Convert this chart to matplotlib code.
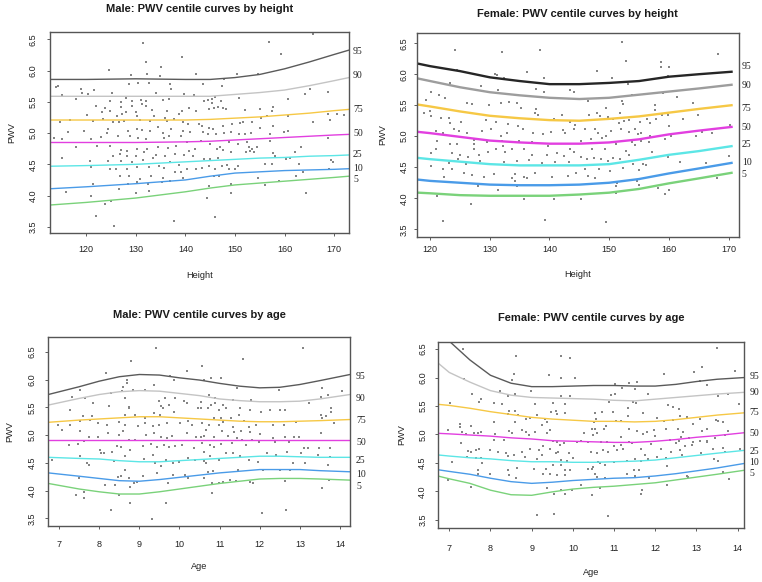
import numpy as np
import matplotlib
matplotlib.use("Agg")
import matplotlib.pyplot as plt

# centile order used by every panel
centiles = ["95", "90", "75", "50", "25", "10", "5"]
curve_colors = ["#5a5a5a", "#c4c4c4", "#f6c845", "#e23fe0", "#5ce6e6", "#4a9be8", "#7ad27a"]

# ---------------- Male, by height ----------------
male_h_pts = [
    (131.5, 6.45), (139.4, 6.22), (132.1, 6.14), (124.5, 6.01), (135.0, 6.06), (129.1, 5.93), (132.2, 5.94),
    (134.8, 5.92), (142.1, 5.95), (113.9, 5.74), (114.3, 5.75), (119.0, 5.71), (119.2, 5.64), (120.3, 5.62),
    (121.6, 5.69), (128.6, 5.79), (130.5, 5.81), (132.7, 5.81), (136.8, 5.78), (137.1, 5.71), (134.0, 5.65),
    (125.2, 5.65), (115.2, 5.61), (128.0, 5.57), (139.7, 5.63), (141.8, 5.61), (117.9, 5.54), (124.7, 5.51),
    (127.0, 5.50), (129.2, 5.51), (131.0, 5.53), (132.0, 5.51), (135.4, 5.53), (136.6, 5.54), (121.9, 5.43),
    (123.8, 5.40), (127.0, 5.42), (129.2, 5.43), (131.2, 5.46), (132.1, 5.43), (133.2, 5.37), (136.2, 5.36),
    (139.4, 5.36), (140.8, 5.40), (142.1, 5.36), (120.2, 5.29), (123.1, 5.34), (124.8, 5.35), (126.3, 5.27),
    (127.3, 5.30), (128.0, 5.34), (130.1, 5.34), (130.3, 5.27), (133.6, 5.27), (135.9, 5.25), (138.7, 5.30),
    (114.7, 5.18), (116.7, 5.21), (121.4, 5.19), (123.3, 5.22), (125.4, 5.18), (126.7, 5.18), (127.7, 5.19),
    (130.9, 5.21), (132.8, 5.19), (136.3, 5.20), (137.7, 5.22), (139.5, 5.18), (140.5, 5.15), (142.7, 5.14),
    (116.3, 5.02), (119.5, 5.03), (124.4, 5.06), (128.4, 5.04), (130.2, 5.07), (131.3, 5.05), (132.9, 5.03),
    (134.5, 5.10), (135.4, 5.01), (137.1, 5.06), (139.5, 5.04), (141.0, 5.02), (113.6, 4.92), (121.0, 4.91),
    (122.9, 4.94), (124.1, 5.00), (126.5, 4.95), (128.9, 4.96), (130.5, 4.92), (132.0, 4.90), (135.6, 4.92),
    (136.6, 4.96), (139.2, 4.95), (140.3, 4.86), (115.1, 4.90), (118.0, 4.78), (122.2, 4.80), (124.8, 4.80),
    (127.1, 4.73), (128.3, 4.72), (130.3, 4.74), (132.2, 4.75), (134.4, 4.77), (136.4, 4.76), (138.1, 4.79),
    (140.7, 4.72), (141.9, 4.74), (125.5, 4.63), (126.8, 4.67), (128.3, 4.64), (130.1, 4.64), (131.7, 4.69),
    (134.0, 4.65), (135.8, 4.64), (137.9, 4.67), (139.8, 4.65), (141.6, 4.63), (115.1, 4.60), (120.8, 4.56),
    (124.3, 4.55), (127.1, 4.56), (129.3, 4.54), (131.5, 4.57), (133.5, 4.60), (134.6, 4.48), (136.9, 4.54),
    (138.8, 4.49), (140.4, 4.43), (121.0, 4.46), (124.7, 4.43), (126.0, 4.43), (128.2, 4.43), (130.2, 4.46),
    (132.6, 4.46), (135.6, 4.44), (139.1, 4.38), (142.1, 4.42), (126.8, 4.31), (128.6, 4.32), (130.9, 4.26),
    (133.1, 4.32), (135.5, 4.28), (137.9, 4.37), (139.5, 4.28), (121.4, 4.19), (128.4, 4.18), (130.3, 4.22),
    (132.4, 4.19), (135.2, 4.21), (136.9, 4.23), (116.0, 4.06), (121.0, 3.99), (126.6, 4.11), (130.1, 4.04),
    (132.6, 4.07), (123.7, 3.87), (125.0, 3.92), (121.9, 3.68), (125.7, 3.51), (137.7, 3.60),
    (156.9, 6.46), (159.3, 6.26), (165.7, 6.59), (150.5, 5.94), (154.7, 5.94), (147.7, 5.87), (143.6, 5.78),
    (147.3, 5.75), (150.8, 5.57), (160.6, 5.54), (164.2, 5.62), (165.1, 5.70), (168.8, 5.66), (143.8, 5.51),
    (144.6, 5.53), (145.4, 5.55), (145.3, 5.48), (146.0, 5.58), (147.2, 5.51), (144.8, 5.38), (145.7, 5.40),
    (146.5, 5.42), (147.5, 5.40), (148.2, 5.39), (152.1, 5.37), (155.1, 5.38), (157.7, 5.42), (157.5, 5.35),
    (168.7, 5.31), (170.5, 5.31), (171.9, 5.29), (160.6, 5.27), (155.3, 5.25), (156.5, 5.27), (143.3, 5.12),
    (144.8, 5.08), (145.5, 5.06), (147.5, 5.12), (149.5, 5.15), (151.0, 5.17), (151.7, 5.18), (153.5, 5.18),
    (155.0, 5.08), (157.6, 5.11), (159.8, 5.02), (160.7, 5.03), (165.7, 5.18), (169.1, 5.21), (143.6, 5.02),
    (144.5, 4.99), (146.1, 4.98), (147.8, 5.00), (149.2, 5.02), (150.9, 4.98), (152.0, 4.99), (153.3, 5.01),
    (157.1, 4.99), (168.8, 4.92), (143.2, 4.88), (144.9, 4.83), (146.3, 4.75), (146.9, 4.77), (147.5, 4.73),
    (148.9, 4.85), (150.6, 4.83), (152.4, 4.86), (152.9, 4.78), (153.5, 4.74), (154.5, 4.77), (157.0, 4.87),
    (162.1, 4.70), (163.4, 4.77), (157.6, 4.68), (158.0, 4.63), (143.8, 4.59), (145.0, 4.58), (146.5, 4.60),
    (149.3, 4.69), (152.2, 4.70), (153.0, 4.71), (153.9, 4.69), (160.3, 4.58), (161.1, 4.60), (143.4, 4.44),
    (144.7, 4.48), (146.0, 4.43), (147.4, 4.48), (148.4, 4.49), (150.0, 4.43), (150.7, 4.48), (156.1, 4.50),
    (157.4, 4.51), (163.0, 4.51), (169.4, 4.57), (169.8, 4.53), (169.0, 4.42), (145.7, 4.32), (146.8, 4.32),
    (148.9, 4.43), (154.7, 4.28), (156.0, 4.17), (158.9, 4.24), (162.4, 4.31), (163.7, 4.37), (144.8, 4.16),
    (149.3, 4.19), (149.2, 4.04), (164.3, 4.04), (144.4, 3.96), (145.9, 3.66),
]
male_h_grid = [113, 120, 130, 140, 145, 150, 155, 160, 165, 170, 173]
male_h_curves = [
    [5.86, 5.86, 5.87, 5.86, 5.86, 5.89, 5.94, 6.03, 6.14, 6.26, 6.33],
    [5.59, 5.59, 5.59, 5.59, 5.59, 5.62, 5.65, 5.69, 5.76, 5.84, 5.89],
    [5.21, 5.21, 5.21, 5.21, 5.22, 5.24, 5.26, 5.29, 5.32, 5.36, 5.38],
    [4.85, 4.85, 4.85, 4.86, 4.87, 4.89, 4.91, 4.93, 4.95, 4.97, 4.98],
    [4.47, 4.48, 4.50, 4.54, 4.56, 4.58, 4.60, 4.61, 4.63, 4.64, 4.65],
    [4.11, 4.14, 4.19, 4.25, 4.31, 4.36, 4.38, 4.40, 4.41, 4.42, 4.43],
    [3.85, 3.89, 3.96, 4.06, 4.12, 4.17, 4.20, 4.23, 4.26, 4.29, 4.31],
]
male_h_label_y = [6.30, 5.92, 5.38, 4.99, 4.65, 4.44, 4.26]

# ---------------- Female, by height ----------------
female_h_pts = [
    (124.1, 6.39), (132.1, 6.36), (138.4, 6.39), (124.5, 6.07), (130.8, 6.01), (131.2, 5.99), (129.8, 5.95),
    (132.4, 5.94), (136.2, 6.04), (139.0, 5.94), (123.3, 5.86), (128.6, 5.81), (131.4, 5.75), (137.8, 5.76),
    (139.0, 5.71), (143.4, 5.75), (144.1, 5.71), (120.1, 5.71), (121.5, 5.66), (119.3, 5.58), (122.5, 5.61),
    (126.2, 5.53), (127.0, 5.52), (129.8, 5.51), (131.9, 5.53), (133.2, 5.55), (134.5, 5.53), (135.3, 5.46),
    (137.8, 5.44), (142.1, 5.35), (119.0, 5.38), (119.9, 5.40), (120.1, 5.32), (121.8, 5.29), (123.2, 5.29),
    (123.3, 5.22), (125.1, 5.23), (129.3, 5.26), (131.0, 5.23), (133.0, 5.19), (134.7, 5.16), (137.5, 5.37),
    (138.0, 5.35), (140.7, 5.28), (143.4, 5.23), (144.2, 5.18), (120.9, 5.08), (122.2, 5.05), (124.0, 5.11),
    (124.9, 5.08), (126.1, 5.05), (128.7, 5.08), (130.2, 5.12), (131.8, 5.01), (132.9, 5.05), (135.5, 5.11),
    (137.2, 5.06), (138.9, 5.03), (140.2, 5.07), (142.2, 5.10), (142.6, 5.06), (144.1, 5.11), (121.2, 4.92),
    (123.4, 4.88), (124.5, 4.87), (127.3, 4.94), (127.4, 4.87), (127.4, 4.79), (129.5, 4.90), (132.1, 4.92),
    (132.2, 4.84), (134.9, 4.92), (135.7, 4.80), (137.1, 4.90), (139.8, 4.84), (143.5, 4.79), (144.1, 4.75),
    (120.1, 4.73), (121.0, 4.79), (123.6, 4.73), (125.0, 4.70), (126.3, 4.67), (128.2, 4.69), (129.7, 4.75),
    (131.1, 4.79), (132.5, 4.75), (133.7, 4.79), (137.0, 4.70), (139.6, 4.69), (141.2, 4.73), (142.4, 4.68),
    (123.1, 4.57), (124.6, 4.63), (126.0, 4.56), (128.3, 4.60), (129.5, 4.56), (132.4, 4.59), (134.6, 4.60),
    (136.6, 4.61), (138.8, 4.57), (140.9, 4.58), (143.2, 4.59), (120.1, 4.52), (122.2, 4.47), (123.7, 4.47),
    (125.6, 4.41), (127.0, 4.37), (129.0, 4.35), (130.7, 4.39), (133.8, 4.33), (134.3, 4.39), (135.7, 4.34),
    (136.2, 4.33), (137.6, 4.41), (140.5, 4.35), (143.1, 4.36), (144.5, 4.40), (122.3, 4.35), (128.1, 4.19),
    (131.3, 4.13), (134.3, 4.28), (134.6, 4.20), (121.2, 4.04), (126.9, 3.90), (135.7, 3.98), (140.7, 3.98),
    (122.1, 3.63), (139.2, 3.65),
    (152.2, 6.52), (168.2, 6.32), (152.9, 6.22), (158.7, 6.20), (158.7, 6.12), (160.0, 6.12), (147.9, 6.06),
    (150.4, 5.94), (159.9, 5.97), (153.2, 5.85), (153.8, 5.67), (159.0, 5.69), (161.3, 5.64), (146.4, 5.57),
    (152.2, 5.57), (152.3, 5.52), (149.5, 5.46), (157.7, 5.51), (157.7, 5.43), (164.1, 5.54), (148.0, 5.38),
    (151.8, 5.38), (146.7, 5.34), (148.4, 5.33), (149.8, 5.31), (150.7, 5.27), (151.6, 5.22), (152.4, 5.25),
    (153.4, 5.26), (155.2, 5.23), (156.3, 5.28), (156.9, 5.21), (157.9, 5.27), (158.9, 5.34), (159.9, 5.34),
    (160.1, 5.16), (162.3, 5.28), (164.9, 5.35), (145.9, 5.11), (147.6, 5.11), (148.1, 5.06), (149.4, 5.01),
    (150.3, 5.08), (152.0, 5.11), (153.3, 5.07), (154.3, 5.11), (154.8, 5.03), (155.4, 5.06), (156.8, 5.00),
    (159.4, 4.96), (160.3, 5.00), (164.6, 5.01), (165.5, 5.07), (167.2, 5.06), (170.2, 5.18), (145.3, 4.92),
    (147.0, 4.95), (148.8, 4.97), (147.2, 4.79), (149.3, 4.79), (151.2, 4.87), (152.9, 4.76), (153.9, 4.90),
    (154.4, 4.86), (155.4, 4.92), (156.6, 4.90), (157.2, 4.75), (145.3, 4.67), (146.3, 4.63), (147.5, 4.65),
    (148.7, 4.64), (149.8, 4.60), (150.7, 4.65), (151.8, 4.63), (153.4, 4.70), (154.0, 4.55), (155.6, 4.56),
    (159.9, 4.66), (161.9, 4.59), (166.2, 4.57), (170.1, 4.68), (145.9, 4.47), (148.3, 4.47), (150.2, 4.44),
    (152.3, 4.48), (155.0, 4.46), (156.1, 4.53), (146.5, 4.36), (147.7, 4.32), (151.3, 4.25), (151.2, 4.20),
    (154.6, 4.28), (155.0, 4.21), (158.2, 4.17), (159.3, 4.07), (160.0, 4.14), (168.0, 4.32), (145.3, 3.99),
    (151.1, 4.09), (149.4, 3.61),
]
female_h_grid = [118, 120, 125, 130, 135, 140, 145, 150, 155, 160, 165, 170.5]
female_h_curves = [
    [6.17, 6.13, 6.05, 5.95, 5.89, 5.84, 5.84, 5.86, 5.89, 5.96, 6.00, 6.04],
    [5.93, 5.89, 5.79, 5.71, 5.66, 5.62, 5.60, 5.62, 5.67, 5.72, 5.77, 5.83],
    [5.51, 5.48, 5.40, 5.33, 5.29, 5.26, 5.25, 5.28, 5.32, 5.38, 5.44, 5.50],
    [5.07, 5.05, 4.99, 4.93, 4.90, 4.88, 4.88, 4.90, 4.95, 5.03, 5.09, 5.15],
    [4.65, 4.63, 4.59, 4.55, 4.53, 4.53, 4.53, 4.55, 4.62, 4.70, 4.76, 4.84],
    [4.30, 4.28, 4.25, 4.22, 4.21, 4.21, 4.22, 4.25, 4.31, 4.40, 4.48, 4.57],
    [4.09, 4.08, 4.05, 4.04, 4.04, 4.04, 4.06, 4.09, 4.15, 4.24, 4.32, 4.41],
]
female_h_label_y = [6.12, 5.82, 5.45, 5.14, 4.86, 4.58, 4.39]

# ---------------- Male, by age ----------------
male_a_pts = [
    (9.41, 6.57), (8.79, 6.33), (8.17, 6.12), (10.19, 6.15), (8.69, 5.99), (8.69, 5.94), (8.59, 5.87),
    (8.57, 5.79), (7.51, 5.82), (7.65, 5.67), (7.31, 5.69), (8.29, 5.76), (8.83, 5.82), (9.36, 5.91),
    (9.76, 6.06), (9.87, 6.00), (9.89, 5.67), (9.49, 5.61), (9.65, 5.67), (9.13, 5.81), (7.85, 5.58),
    (8.24, 5.52), (8.65, 5.66), (8.73, 5.51), (8.75, 5.49), (9.53, 5.52), (9.58, 5.48), (9.73, 5.54),
    (10.12, 5.61), (10.18, 5.58), (10.46, 5.48), (7.27, 5.46), (7.60, 5.34), (7.83, 5.34), (8.64, 5.37),
    (8.90, 5.37), (9.13, 5.30), (9.37, 5.40), (9.51, 5.37), (9.87, 5.42), (6.98, 5.19), (7.27, 5.19),
    (7.51, 5.25), (7.77, 5.28), (7.96, 5.21), (8.19, 5.19), (8.48, 5.24), (8.64, 5.19), (8.96, 5.16),
    (9.13, 5.22), (9.35, 5.17), (9.49, 5.18), (9.69, 5.21), (10.02, 5.21), (10.21, 5.25), (10.32, 5.19),
    (7.06, 5.09), (7.53, 5.07), (7.74, 4.97), (7.96, 4.97), (8.22, 5.03), (8.48, 5.00), (8.59, 5.07),
    (8.74, 4.91), (8.90, 4.91), (9.16, 5.01), (9.37, 5.03), (9.53, 4.97), (9.69, 4.95), (9.82, 4.99),
    (10.19, 5.04), (10.40, 4.97), (7.25, 4.82), (7.47, 4.84), (7.63, 4.89), (8.03, 4.73), (8.13, 4.67),
    (8.32, 4.70), (8.45, 4.81), (8.54, 4.79), (8.76, 4.73), (9.08, 4.80), (9.28, 4.84), (9.43, 4.79),
    (9.62, 4.82), (9.73, 4.79), (9.88, 4.81), (10.07, 4.83), (10.35, 4.77), (7.52, 4.62), (7.69, 4.50),
    (7.75, 4.47), (8.04, 4.67), (8.37, 4.54), (8.64, 4.63), (9.11, 4.57), (9.35, 4.64), (9.40, 4.49),
    (9.53, 4.44), (9.67, 4.56), (9.85, 4.49), (9.98, 4.52), (10.21, 4.58), (10.39, 4.55), (6.81, 4.55),
    (9.43, 4.31), (8.65, 4.38), (8.47, 4.25), (8.55, 4.26), (8.73, 4.23), (8.86, 4.13), (8.94, 4.15),
    (9.09, 4.26), (9.85, 4.29), (10.13, 4.28), (10.21, 4.22), (7.50, 4.23), (8.15, 4.10), (8.40, 4.10),
    (8.76, 4.07), (9.72, 4.13), (7.43, 3.93), (7.63, 3.98), (8.49, 3.92), (7.62, 3.86), (8.76, 3.77),
    (8.29, 3.66), (9.67, 3.77), (9.31, 3.49),
    (13.09, 6.57), (11.59, 6.37), (10.56, 6.24), (11.04, 6.03), (10.78, 6.03), (10.61, 5.99), (11.43, 5.84),
    (12.48, 5.81), (13.54, 5.85), (14.05, 5.79), (10.74, 5.73), (10.89, 5.66), (10.53, 5.60), (10.88, 5.58),
    (13.52, 5.69), (13.71, 5.72), (10.78, 5.54), (11.09, 5.55), (11.34, 5.63), (11.78, 5.63), (13.23, 5.57),
    (10.53, 5.48), (10.70, 5.48), (10.99, 5.45), (11.15, 5.48), (11.50, 5.49), (11.76, 5.45), (12.04, 5.42),
    (12.26, 5.46), (12.51, 5.46), (12.63, 5.46), (13.78, 5.48), (13.78, 5.42), (13.53, 5.36), (13.66, 5.34),
    (13.54, 5.31), (10.86, 5.30), (11.03, 5.31), (11.09, 5.23), (11.29, 5.30), (11.48, 5.37), (11.62, 5.25),
    (10.56, 5.22), (10.74, 5.19), (10.99, 5.19), (11.34, 5.15), (11.73, 5.15), (11.90, 5.18), (12.32, 5.19),
    (12.61, 5.19), (12.90, 5.24), (13.84, 5.22), (10.66, 5.09), (11.05, 5.07), (11.36, 5.06), (11.53, 5.07),
    (11.75, 5.05), (12.01, 5.02), (10.54, 4.97), (10.62, 4.98), (10.86, 4.97), (11.22, 4.99), (11.44, 4.95),
    (11.57, 4.91), (11.80, 4.91), (12.33, 4.95), (12.64, 4.97), (12.86, 4.97), (12.98, 4.96), (13.52, 5.03),
    (10.57, 4.85), (10.76, 4.82), (10.86, 4.79), (11.04, 4.84), (11.32, 4.86), (11.67, 4.82), (11.97, 4.87),
    (12.39, 4.88), (12.73, 4.88), (13.11, 4.77), (13.20, 4.76), (13.47, 4.77), (13.75, 4.77), (10.61, 4.70),
    (10.75, 4.62), (11.15, 4.67), (11.34, 4.67), (11.50, 4.63), (12.18, 4.67), (12.40, 4.64), (12.69, 4.70),
    (13.04, 4.67), (13.44, 4.64), (13.74, 4.61), (10.60, 4.54), (10.66, 4.49), (10.99, 4.56), (11.73, 4.55),
    (11.95, 4.52), (12.83, 4.50), (13.14, 4.49), (13.69, 4.46), (10.72, 4.34), (10.84, 4.35), (11.47, 4.37),
    (12.07, 4.37), (12.51, 4.37), (12.76, 4.37), (10.62, 4.22), (10.82, 4.13), (10.99, 4.14), (11.09, 4.16),
    (11.27, 4.19), (11.40, 4.18), (11.76, 4.15), (11.82, 4.13), (12.63, 4.18), (13.73, 4.19), (10.82, 3.96),
    (13.54, 4.04), (12.66, 3.65), (12.05, 3.59),
]
male_a_grid = [6.73, 7.5, 8, 8.5, 9, 9.5, 10, 10.5, 11, 11.5, 12, 12.5, 13, 13.5, 14.25]
male_a_curves = [
    [5.73, 5.87, 5.97, 6.05, 6.09, 6.08, 6.03, 5.99, 5.93, 5.88, 5.85, 5.86, 5.91, 5.98, 6.09],
    [5.54, 5.66, 5.73, 5.78, 5.80, 5.79, 5.75, 5.71, 5.65, 5.62, 5.60, 5.60, 5.61, 5.65, 5.73],
    [5.23, 5.27, 5.29, 5.31, 5.33, 5.33, 5.31, 5.29, 5.27, 5.25, 5.24, 5.24, 5.25, 5.26, 5.28],
    [4.91, 4.91, 4.91, 4.91, 4.91, 4.91, 4.91, 4.91, 4.91, 4.91, 4.91, 4.91, 4.91, 4.91, 4.91],
    [4.60, 4.58, 4.57, 4.54, 4.52, 4.52, 4.54, 4.56, 4.58, 4.60, 4.62, 4.62, 4.61, 4.60, 4.60],
    [4.32, 4.26, 4.22, 4.18, 4.17, 4.20, 4.24, 4.28, 4.32, 4.35, 4.38, 4.38, 4.38, 4.36, 4.34],
    [4.13, 4.03, 3.98, 3.94, 3.94, 3.98, 4.03, 4.08, 4.13, 4.17, 4.21, 4.22, 4.22, 4.21, 4.19],
]
male_a_label_y = [6.05, 5.66, 5.26, 4.87, 4.55, 4.30, 4.07]

# ---------------- Female, by age ----------------
female_a_pts = [
    (7.33, 6.50), (8.61, 6.38), (9.72, 6.38), (9.94, 6.35), (8.56, 6.06), (9.41, 6.04), (9.72, 6.00),
    (10.06, 6.00), (7.36, 5.98), (8.52, 5.95), (8.24, 5.77), (8.99, 5.77), (7.56, 5.71), (8.60, 5.71),
    (9.71, 5.68), (8.42, 5.68), (9.94, 5.67), (7.78, 5.62), (7.73, 5.57), (7.01, 5.56), (8.09, 5.56),
    (8.27, 5.54), (9.07, 5.54), (9.51, 5.56), (9.80, 5.53), (8.46, 5.41), (8.60, 5.42), (8.42, 5.36),
    (8.67, 5.34), (8.87, 5.27), (8.95, 5.29), (9.13, 5.34), (9.48, 5.40), (9.60, 5.41), (9.62, 5.36),
    (9.80, 5.37), (9.33, 5.27), (9.37, 5.22), (8.09, 5.21), (8.59, 5.21), (7.26, 5.19), (7.27, 5.13),
    (7.54, 5.15), (6.97, 5.08), (7.31, 5.04), (7.40, 5.01), (7.59, 5.02), (7.69, 5.02), (7.78, 5.04),
    (8.12, 5.01), (8.46, 5.06), (8.53, 5.02), (8.76, 5.08), (8.87, 5.04), (8.94, 4.99), (9.09, 5.04),
    (9.25, 5.16), (9.37, 5.02), (9.44, 5.08), (10.28, 5.02), (7.28, 4.85), (8.08, 4.90), (8.32, 4.90),
    (9.51, 4.89), (9.61, 4.86), (10.10, 4.87), (10.20, 4.88), (10.37, 4.87), (7.45, 4.70), (7.53, 4.69),
    (7.66, 4.72), (7.72, 4.74), (7.98, 4.72), (8.18, 4.69), (8.37, 4.67), (8.76, 4.69), (8.97, 4.75),
    (9.17, 4.73), (9.28, 4.80), (9.45, 4.75), (9.58, 4.67), (9.65, 4.69), (9.69, 4.82), (9.78, 4.85),
    (9.90, 4.67), (7.64, 4.58), (7.76, 4.58), (8.42, 4.62), (8.56, 4.64), (8.83, 4.61), (9.13, 4.57),
    (9.26, 4.64), (9.71, 4.55), (9.85, 4.53), (10.00, 4.58), (7.07, 4.52), (7.43, 4.61), (7.69, 4.37),
    (7.79, 4.49), (8.42, 4.38), (8.65, 4.41), (9.06, 4.39), (9.35, 4.40), (9.52, 4.46), (9.72, 4.47),
    (9.80, 4.37), (9.94, 4.38), (10.36, 4.40), (7.71, 4.31), (8.00, 4.31), (8.44, 4.29), (9.27, 4.31),
    (9.45, 4.30), (9.61, 4.29), (9.82, 4.29), (6.98, 4.20), (7.52, 4.07), (8.63, 4.24), (9.37, 4.05),
    (9.55, 3.96), (9.71, 4.02), (9.81, 3.96), (9.99, 4.02), (10.20, 4.11), (9.14, 3.59), (9.55, 3.60),
    (13.49, 6.52), (13.14, 6.19), (12.95, 6.10), (13.94, 6.11), (12.21, 6.06), (11.02, 5.88), (11.36, 5.90),
    (11.55, 5.93), (11.20, 5.81), (11.51, 5.80), (13.08, 5.94), (13.25, 5.87), (11.83, 5.71), (10.93, 5.69),
    (11.02, 5.71), (13.76, 5.71), (14.02, 5.53), (13.52, 5.67), (11.45, 5.57), (11.52, 5.56), (12.32, 5.51),
    (11.34, 5.46), (12.44, 5.48), (12.58, 5.44), (10.88, 5.57), (10.54, 5.37), (10.70, 5.40), (10.97, 5.39),
    (11.69, 5.37), (11.33, 5.33), (12.60, 5.32), (12.78, 5.31), (13.09, 5.27), (13.47, 5.26), (13.52, 5.24),
    (13.65, 5.22), (10.52, 5.22), (10.57, 5.27), (11.05, 5.23), (11.18, 5.23), (12.05, 5.29), (12.20, 5.24),
    (12.42, 5.25), (10.46, 5.09), (10.54, 5.09), (10.80, 5.15), (10.76, 5.09), (11.37, 5.09), (11.55, 5.06),
    (11.80, 5.05), (11.98, 5.08), (12.27, 5.09), (12.54, 5.10), (12.67, 5.05), (12.92, 5.18), (13.13, 5.06),
    (13.25, 5.09), (13.76, 5.06), (10.48, 4.99), (10.59, 5.02), (11.18, 4.95), (11.37, 4.87), (11.71, 5.00),
    (11.99, 4.98), (12.62, 4.96), (12.81, 4.93), (12.92, 4.87), (13.08, 4.89), (13.25, 4.86), (13.45, 4.93),
    (13.69, 4.99), (10.68, 4.87), (10.84, 4.87), (11.01, 4.80), (11.17, 4.81), (11.43, 4.85), (11.90, 4.83),
    (12.36, 4.91), (12.50, 4.85), (12.58, 4.88), (12.72, 4.80), (12.89, 4.81), (13.25, 4.88), (10.45, 4.69),
    (10.59, 4.68), (10.74, 4.72), (10.86, 4.69), (11.06, 4.72), (11.21, 4.74), (11.66, 4.74), (11.75, 4.64),
    (11.83, 4.57), (12.14, 4.75), (12.37, 4.69), (12.60, 4.72), (12.64, 4.64), (13.10, 4.68), (13.40, 4.74),
    (13.65, 4.77), (13.68, 4.69), (14.06, 4.75), (10.62, 4.52), (10.67, 4.49), (10.77, 4.46), (11.00, 4.52),
    (11.31, 4.54), (11.51, 4.57), (11.65, 4.53), (12.04, 4.60), (12.26, 4.58), (13.43, 4.57), (13.52, 4.54),
    (10.50, 4.43), (10.46, 4.40), (11.48, 4.37), (11.61, 4.37), (12.29, 4.45), (12.76, 4.27), (13.65, 4.34),
    (13.80, 4.21), (10.54, 4.30), (10.58, 4.26), (10.78, 4.23), (11.31, 4.30), (11.51, 4.27), (11.85, 4.24),
    (12.28, 4.11), (12.80, 4.25), (10.66, 4.05), (11.67, 4.02), (11.65, 3.96), (10.46, 3.93), (10.86, 3.57),
]
female_a_grid = [6.72, 7.0, 7.5, 8, 8.5, 9, 9.5, 10, 10.5, 11, 11.5, 12, 12.5, 13, 13.5, 14.16]
female_a_curves = [
    [6.85, 6.64, 6.31, 6.04, 5.90, 5.84, 5.84, 5.85, 5.86, 5.86, 5.85, 5.85, 5.88, 5.93, 5.97, 6.00],
    [6.26, 6.09, 5.92, 5.77, 5.69, 5.65, 5.64, 5.63, 5.62, 5.60, 5.59, 5.62, 5.65, 5.68, 5.71, 5.74],
    [5.53, 5.51, 5.46, 5.40, 5.35, 5.30, 5.27, 5.25, 5.23, 5.23, 5.22, 5.23, 5.26, 5.30, 5.34, 5.38],
    [5.02, 5.01, 4.99, 4.97, 4.94, 4.92, 4.89, 4.88, 4.87, 4.86, 4.86, 4.88, 4.91, 4.95, 4.98, 5.03],
    [4.64, 4.62, 4.59, 4.57, 4.54, 4.52, 4.52, 4.51, 4.51, 4.52, 4.53, 4.55, 4.59, 4.63, 4.67, 4.72],
    [4.38, 4.35, 4.30, 4.23, 4.17, 4.14, 4.16, 4.19, 4.21, 4.23, 4.24, 4.27, 4.31, 4.36, 4.41, 4.49],
    [4.27, 4.22, 4.14, 4.02, 3.94, 3.93, 3.99, 4.04, 4.07, 4.09, 4.12, 4.15, 4.20, 4.25, 4.30, 4.37],
]
female_a_label_y = [6.01, 5.74, 5.38, 5.01, 4.70, 4.50, 4.32]

W, H = 762, 582
fig = plt.figure(figsize=(W / 100, H / 100), dpi=100)


def draw(box, pts, grid, curves, label_y, title, xlabel, xlim, ylim, xticks,
         title_dy, xlab_dy, ylab_dx, tick_dy, tick_dx, lab_dx, lw, dark=False):
    l, t, r, b = box
    ax = fig.add_axes([l / W, 1 - b / H, (r - l) / W, (b - t) / H])
    hgt, wid = b - t, r - l
    x, y = zip(*pts)
    ax.scatter(x, y, s=2.4, marker="s", color="#858585", linewidths=0, zorder=1)
    cols = list(curve_colors)
    if dark:
        cols[0], cols[1] = "#262626", "#9d9d9d"
    for c, col, ly, name in zip(curves, cols, label_y, centiles):
        ax.plot(grid, c, color=col, lw=lw, zorder=2)
        ax.annotate(name, xy=(1, ly), xycoords=("axes fraction", "data"),
                    xytext=(lab_dx * 0.72, 0), textcoords="offset points",
                    va="center", ha="left", fontsize=7, family="Liberation Serif",
                    color="#222222", annotation_clip=False)
    ax.set_xlim(*xlim)
    ax.set_ylim(*ylim)
    ax.set_xticks(xticks)
    ax.set_yticks([3.5, 4.0, 4.5, 5.0, 5.5, 6.0, 6.5])
    ax.set_yticklabels(["3.5", "4.0", "4.5", "5.0", "5.5", "6.0", "6.5"], rotation=90, va="center")
    ax.tick_params(direction="out", length=2.5, width=0.6, colors="#444444",
                   labelsize=6.5, labelcolor="#222222")
    ax.tick_params(axis="x", pad=(tick_dy - 2.5 / 0.72 - 4.5) * 0.72)
    ax.tick_params(axis="y", pad=(tick_dx - 2.5 / 0.72 - 4.5) * 0.72)
    for s in ax.spines.values():
        s.set_color("#555555")
        s.set_linewidth(1.0)
    ax.text(0.5, 1 + title_dy / hgt, title, transform=ax.transAxes, ha="center",
            va="center", fontsize=8, fontweight="bold", family="Liberation Sans", color="#1a1a1a")
    ax.text(0.5, -xlab_dy / hgt, xlabel, transform=ax.transAxes, ha="center",
            va="center", fontsize=6.6, family="Liberation Sans", color="#222222")
    ax.text(-ylab_dx / wid, 0.5, "PWV", transform=ax.transAxes, ha="center",
            va="center", rotation=90, fontsize=6.6, family="Liberation Sans", color="#222222")
    for lab in ax.get_xticklabels() + ax.get_yticklabels():
        lab.set_family("Liberation Sans")
    return ax


draw((50, 32, 349, 233), male_h_pts, male_h_grid, male_h_curves, male_h_label_y,
     "Male: PWV centile curves by height", "Height", (112.7, 173), (3.40, 6.62),
     [120, 130, 140, 150, 160, 170], 23, 42, 38, 17, 17, 4, 1.0)
draw((417, 33.3, 738.7, 236.7), female_h_pts, female_h_grid, female_h_curves, female_h_label_y,
     "Female: PWV centile curves by height", "Height", (117.8, 171.7), (3.38, 6.66),
     [120, 130, 140, 150, 160, 170], 19, 38, 34, 13, 13, 3, 1.7, dark=True)
draw((48.3, 336.7, 350, 525.7), male_a_pts, male_a_grid, male_a_curves, male_a_label_y,
     "Male: PWV centile curves by age", "Age", (6.73, 14.25), (3.37, 6.77),
     list(range(7, 15)), 22, 41, 39, 19, 16, 6, 1.0)
draw((437.7, 341.7, 744.3, 528.3), female_a_pts, female_a_grid, female_a_curves, female_a_label_y,
     "Female: PWV centile curves by age", "Age", (6.72, 14.16), (3.35, 6.63),
     list(range(7, 15)), 24, 44, 36, 20, 15, 5, 1.0)

fig.savefig("out.png", dpi=100)
